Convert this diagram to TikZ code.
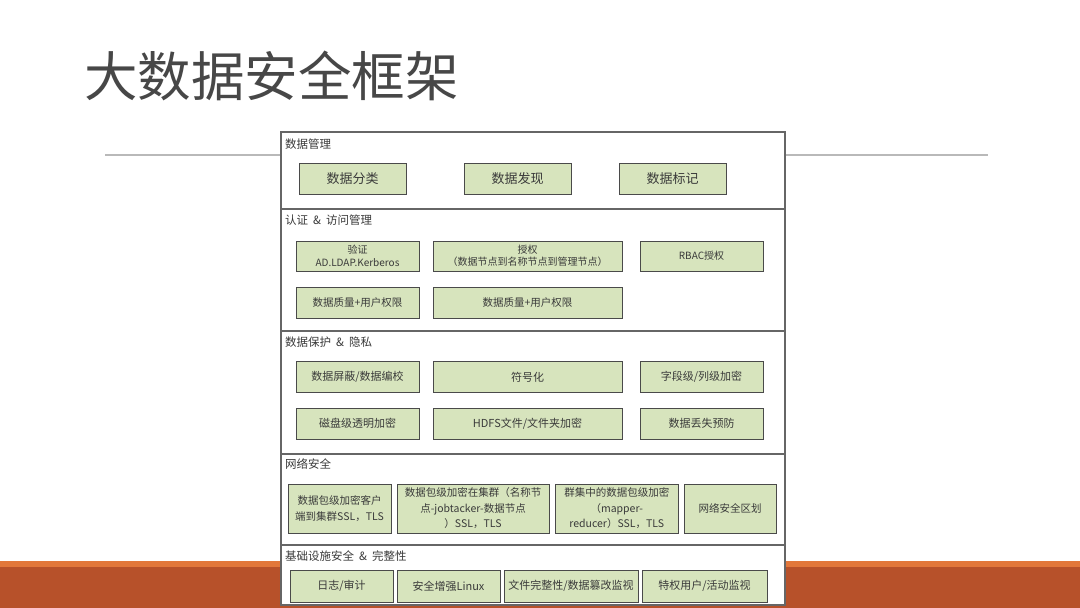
\documentclass[tikz,border=0pt]{standalone}
\usepackage{fontspec}
\setmainfont{Noto Sans CJK SC}
\definecolor{boxgreen}{HTML}{D7E4BD}
\definecolor{boxline}{HTML}{4A4A4A}
\definecolor{inktext}{HTML}{3A3A3A}
\definecolor{rust}{HTML}{B7512A}
\definecolor{lightrust}{HTML}{E2773A}
\newcommand{\amp}{\hspace{5pt}\&\hspace{5pt}}

\tikzstyle{item} = [draw=boxline, fill=boxgreen, line width=0.9pt, inner sep=1pt,
    align=center, text=inktext, font=\fontsize{11}{14}\selectfont]
\tikzstyle{layer} = [anchor=west, inner sep=1pt, text=inktext,
    font=\fontsize{11.5}{14}\selectfont]

\begin{document}
\begin{tikzpicture}[x=1pt, y=-1pt]
\useasboundingbox (0,0) rectangle (1080,608);
\fill[white] (0,0) rectangle (1080,608);
% slide decoration
\fill[lightrust] (0,561) rectangle (1080,567);
\fill[rust] (0,567) rectangle (1080,608);
\draw[gray!55, line width=1.4pt] (105,155) -- (988,155);
\node[anchor=west, inner sep=0pt, text=black!72,
    font=\fontsize{53.5}{58}\selectfont] (title) at (84,76) {大数据安全框架};

% frame
\draw[gray!80!black, line width=1.2pt, fill=white] (281,132) rectangle (785,605);
\draw[gray!80!black, line width=1.2pt] (281,209) -- (785,209);
\draw[gray!80!black, line width=1.2pt] (281,331) -- (785,331);
\draw[gray!80!black, line width=1.2pt] (281,454) -- (785,454);
\draw[gray!80!black, line width=1.2pt] (281,545) -- (785,545);

% data management
\node[layer] (mgmt) at (284,144) {数据管理};
\node[item, minimum width=107, minimum height=31, font=\fontsize{13}{15}\selectfont]
    (fenlei) at (352.5,178.5) {数据分类};
\node[item, minimum width=107, minimum height=31, font=\fontsize{13}{15}\selectfont]
    (faxian) at (517.5,178.5) {数据发现};
\node[item, minimum width=107, minimum height=31, font=\fontsize{13}{15}\selectfont]
    (biaoji) at (672.5,178.5) {数据标记};

% authentication
\node[layer] (auth) at (284,220) {认证\amp 访问管理};
\node[item, minimum width=123, minimum height=30, font=\fontsize{10}{12.5}\selectfont]
    (yanzheng) at (357.5,256) {验证\\AD.LDAP.Kerberos};
\node[item, minimum width=189, minimum height=30, font=\fontsize{10}{12.5}\selectfont]
    (shouquan) at (527.5,256) {授权\\（数据节点到名称节点到管理节点）};
\node[item, minimum width=123, minimum height=30, font=\fontsize{10}{12.5}\selectfont]
    (rbac) at (701.5,256) {RBAC授权};
\node[item, minimum width=123, minimum height=31, font=\fontsize{10.5}{12.5}\selectfont]
    (quanxianA) at (357.5,302.5) {数据质量+用户权限};
\node[item, minimum width=189, minimum height=31, font=\fontsize{10.5}{12.5}\selectfont]
    (quanxianB) at (527.5,302.5) {数据质量+用户权限};

% protection
\node[layer] (privacy) at (284,342) {数据保护\amp 隐私};
\node[item, minimum width=123, minimum height=31] (pingbi) at (357.5,377) {数据屏蔽/数据编校};
\node[item, minimum width=189, minimum height=31] (fuhao) at (527.5,377) {符号化};
\node[item, minimum width=123, minimum height=31] (ziduan) at (701.5,377) {字段级/列级加密};
\node[item, minimum width=123, minimum height=31] (cipan) at (357.5,423.5) {磁盘级透明加密};
\node[item, minimum width=189, minimum height=31] (hdfs) at (527.5,423.5) {HDFS文件/文件夹加密};
\node[item, minimum width=123, minimum height=31] (diushi) at (701.5,423.5) {数据丢失预防};

% network
\node[layer] (net) at (284,464) {网络安全};
\node[item, minimum width=103, minimum height=49, font=\fontsize{10.5}{15.5}\selectfont]
    (kehu) at (339.5,508.5) {数据包级加密客户\\端到集群SSL，TLS};
\node[item, minimum width=152, minimum height=49, font=\fontsize{10.5}{15.5}\selectfont]
    (jiqun) at (473,508.5) {数据包级加密在集群（名称节\\点-jobtacker-数据节点\\）SSL，TLS};
\node[item, minimum width=122.5, minimum height=49, font=\fontsize{10.5}{15.5}\selectfont]
    (qunji) at (616.75,508.5) {群集中的数据包级加密\\（mapper-\\reducer）SSL，TLS};
\node[item, minimum width=92, minimum height=49, font=\fontsize{10.5}{15.5}\selectfont]
    (quhua) at (730,508.5) {网络安全区划};

% infrastructure
\node[layer] (infra) at (284,556) {基础设施安全\amp 完整性};
\node[item, minimum width=103, minimum height=32] (rizhi) at (341.5,586) {日志/审计};
\node[item, minimum width=103, minimum height=32] (linux) at (448.5,586) {安全增强Linux};
\node[item, minimum width=134, minimum height=32] (wanzheng) at (571,586) {文件完整性/数据篡改监视};
\node[item, minimum width=125, minimum height=32] (tequan) at (704.5,586) {特权用户/活动监视};
\end{tikzpicture}
\end{document}
